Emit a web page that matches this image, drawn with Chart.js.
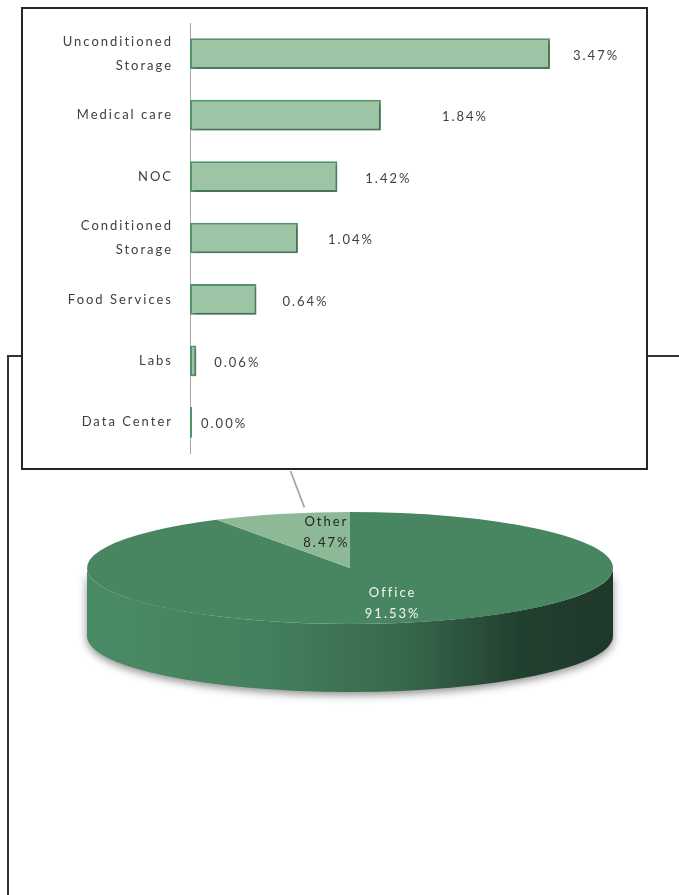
<!DOCTYPE html>
<html><head><meta charset="utf-8">
<script src="https://cdn.jsdelivr.net/npm/chart.js@4"></script>
<style>
html,body{margin:0;padding:0;background:#fff;width:679px;height:895px;overflow:hidden;position:relative;font-family:Lato}
#frame{position:absolute;left:7px;top:355px;width:720px;height:600px;border-left:2px solid #333;border-top:2px solid #333;box-sizing:border-box}
#box{position:absolute;left:21px;top:7px;width:627px;height:463px;border:2px solid #262626;background:#fff;box-sizing:border-box}
#barWrap{position:absolute;left:23px;top:9px;width:623px;height:459px}
#pieWrap{position:absolute;left:0;top:471px;width:679px;height:424px;overflow:hidden}
#pieInner{position:absolute;left:0;top:0;width:679px;height:700px}
</style>
</head><body>
<div id="frame"></div>
<div id="box"></div>
<div id="barWrap"><canvas id="bar"></canvas></div>
<div id="pieWrap"><div id="pieInner"><canvas id="pie"></canvas></div></div>
<script>
// ---- data ----
const categories = [['Unconditioned','Storage'],'Medical care','NOC',['Conditioned','Storage'],'Food Services','Labs','Data Center'];
const shares = [3.47, 1.84, 1.42, 1.04, 0.64, 0.06, 0.00];
const pieLabels = ['Office', 'Other'];
const pieValues = [91.53, 8.47];

const FONT = 'Lato';
const spacing = {
  id: 'spacing',
  beforeLayout(chart){ chart.ctx.letterSpacing = '2px'; },
  beforeDraw(chart){ chart.ctx.letterSpacing = '2px'; }
};

const barDecor = {
  id: 'barDecor',
  beforeDatasetsDraw(chart){
    const ctx = chart.ctx;
    ctx.save();
    ctx.shadowColor = 'rgba(0,0,0,0.28)';
    ctx.shadowBlur = 3;
    ctx.shadowOffsetX = 2;
    ctx.shadowOffsetY = 2;
  },
  afterDatasetsDraw(chart, args, o){
    const ctx = chart.ctx;
    ctx.restore();
    ctx.save();
    ctx.letterSpacing = '2px';
    ctx.font = '13px ' + FONT;
    ctx.fillStyle = '#404040';
    ctx.textAlign = 'left';
    ctx.textBaseline = 'middle';
    const meta = chart.getDatasetMeta(0);
    meta.data.forEach((bar, i) => {
      const v = chart.data.datasets[0].data[i];
      ctx.fillText(v.toFixed(2) + '%', bar.x + (o.gaps[i] || 20), bar.y + 2);
    });
    ctx.restore();
  }
};

new Chart(document.getElementById('bar'), {
  type: 'bar',
  data: {
    labels: categories,
    datasets: [{
      data: shares,
      backgroundColor: '#9DC4A5',
      borderColor: '#54946A',
      borderWidth: 2,
      borderSkipped: false,
      barPercentage: 0.5,
      categoryPercentage: 1,
      minBarLength: 2
    }]
  },
  options: {
    indexAxis: 'y',
    responsive: true,
    maintainAspectRatio: false,
    animation: false,
    events: [],
    layout: { padding: { top: 14, bottom: 15, right: 41, left: 0 } },
    plugins: {
      legend: { display: false },
      tooltip: { enabled: false },
      barDecor: { gaps: [23, 61, 28, 30, 26, 18, 9] }
    },
    scales: {
      x: { display: false, min: 0, max: 4 },
      y: {
        grid: { display: false, drawTicks: false },
        border: { display: true, color: '#A6A6A6', width: 1 },
        ticks: { padding: 17, color: '#404040', font: { family: FONT, size: 13, lineHeight: 1.85 } },
        afterFit(s){ s.width = 167; s.paddingTop = 0; s.paddingBottom = 0; }
      }
    }
  },
  plugins: [spacing, barDecor]
});

function shade(hex, f){
  const n = parseInt(hex.slice(1), 16);
  const c = [(n >> 16) & 255, (n >> 8) & 255, n & 255].map(v => Math.max(0, Math.min(255, Math.round(v * f))));
  return 'rgb(' + c.join(',') + ')';
}

const pie3d = {
  id: 'pie3d',
  beforeDatasetsDraw(chart, args, o){
    const ctx = chart.ctx;
    const meta = chart.getDatasetMeta(0);
    const a0 = meta.data[0];
    const R = a0.outerRadius;
    const k = o.ry / R;
    const cx = a0.x, cy = a0.y;
    const tx = cx, ty = o.cy;
    chart.$pie = { k, cx, cy, tx, ty, R };
    const d = o.depth;
    const cols = chart.data.datasets[0].backgroundColor;
    ctx.save();
    ctx.shadowColor = 'rgba(0,0,0,0.45)';
    ctx.shadowBlur = 9;
    ctx.shadowOffsetY = 3;
    meta.data.forEach((arc, i) => {
      const s = arc.startAngle, e = arc.endAngle;
      for (let n = -1; n <= 1; n++) {
        const base = 2 * Math.PI * n;
        const lo = Math.max(s, base), hi = Math.min(e, base + Math.PI);
        if (hi <= lo) continue;
        const g = ctx.createLinearGradient(tx - R, 0, tx + R, 0);
        const col = cols[i];
        g.addColorStop(0, shade(col, 1.04));
        g.addColorStop(0.35, shade(col, 0.95));
        g.addColorStop(0.6, shade(col, 0.78));
        g.addColorStop(0.82, shade(col, 0.48));
        g.addColorStop(1, shade(col, 0.42));
        ctx.beginPath();
        ctx.ellipse(tx, ty, R, o.ry, 0, lo - base, hi - base);
        ctx.ellipse(tx, ty + d, R, o.ry, 0, hi - base, lo - base, true);
        ctx.closePath();
        ctx.fillStyle = g;
        ctx.fill();
      }
    });
    ctx.restore();
    ctx.save();
    ctx.translate(tx, ty);
    ctx.scale(1, k);
    ctx.translate(-cx, -cy);
  },
  afterDatasetsDraw(chart, args, o){
    const ctx = chart.ctx;
    ctx.restore();
    const { k, tx, ty, R } = chart.$pie;
    const meta = chart.getDatasetMeta(0);
    ctx.save();
    ctx.letterSpacing = '2px';
    ctx.font = '13px ' + FONT;
    ctx.textAlign = 'center';
    ctx.textBaseline = 'middle';
    meta.data.forEach((arc, i) => {
      const mid = (arc.startAngle + arc.endAngle) / 2;
      const r = R * o.labelR;
      const x = tx + r * Math.cos(mid) + (o.nudge[i] || 0);
      const y = ty + r * Math.sin(mid) * k;
      const v = chart.data.datasets[0].data[i];
      ctx.fillStyle = o.labelColors[i];
      ctx.fillText(chart.data.labels[i], x + 1, y - 11);
      ctx.fillText(v.toFixed(2) + '%', x + 1, y + 10);
      if (o.leader[i]) {
        ctx.strokeStyle = '#A0A0A0';
        ctx.lineWidth = 1.6;
        ctx.beginPath();
        ctx.moveTo(x - 21, y - 25);
        ctx.lineTo(x - 36, -3);
        ctx.stroke();
      }
    });
    ctx.restore();
  }
};

new Chart(document.getElementById('pie'), {
  type: 'pie',
  data: {
    labels: pieLabels,
    datasets: [{
      data: pieValues,
      backgroundColor: ['#478661', '#8DB996'],
      borderWidth: 0
    }]
  },
  options: {
    responsive: true,
    maintainAspectRatio: false,
    animation: false,
    events: [],
    radius: 263,
    layout: { padding: { left: 21, right: 0, top: 0, bottom: 0 } },
    plugins: {
      legend: { display: false },
      tooltip: { enabled: false },
      pie3d: { cy: 97, ry: 56, depth: 68, labelR: 0.66, nudge: [-4, 21], labelColors: ['#F4F4F4', '#262626'], leader: [false, true] }
    }
  },
  plugins: [spacing, pie3d]
});
</script>
</body></html>
